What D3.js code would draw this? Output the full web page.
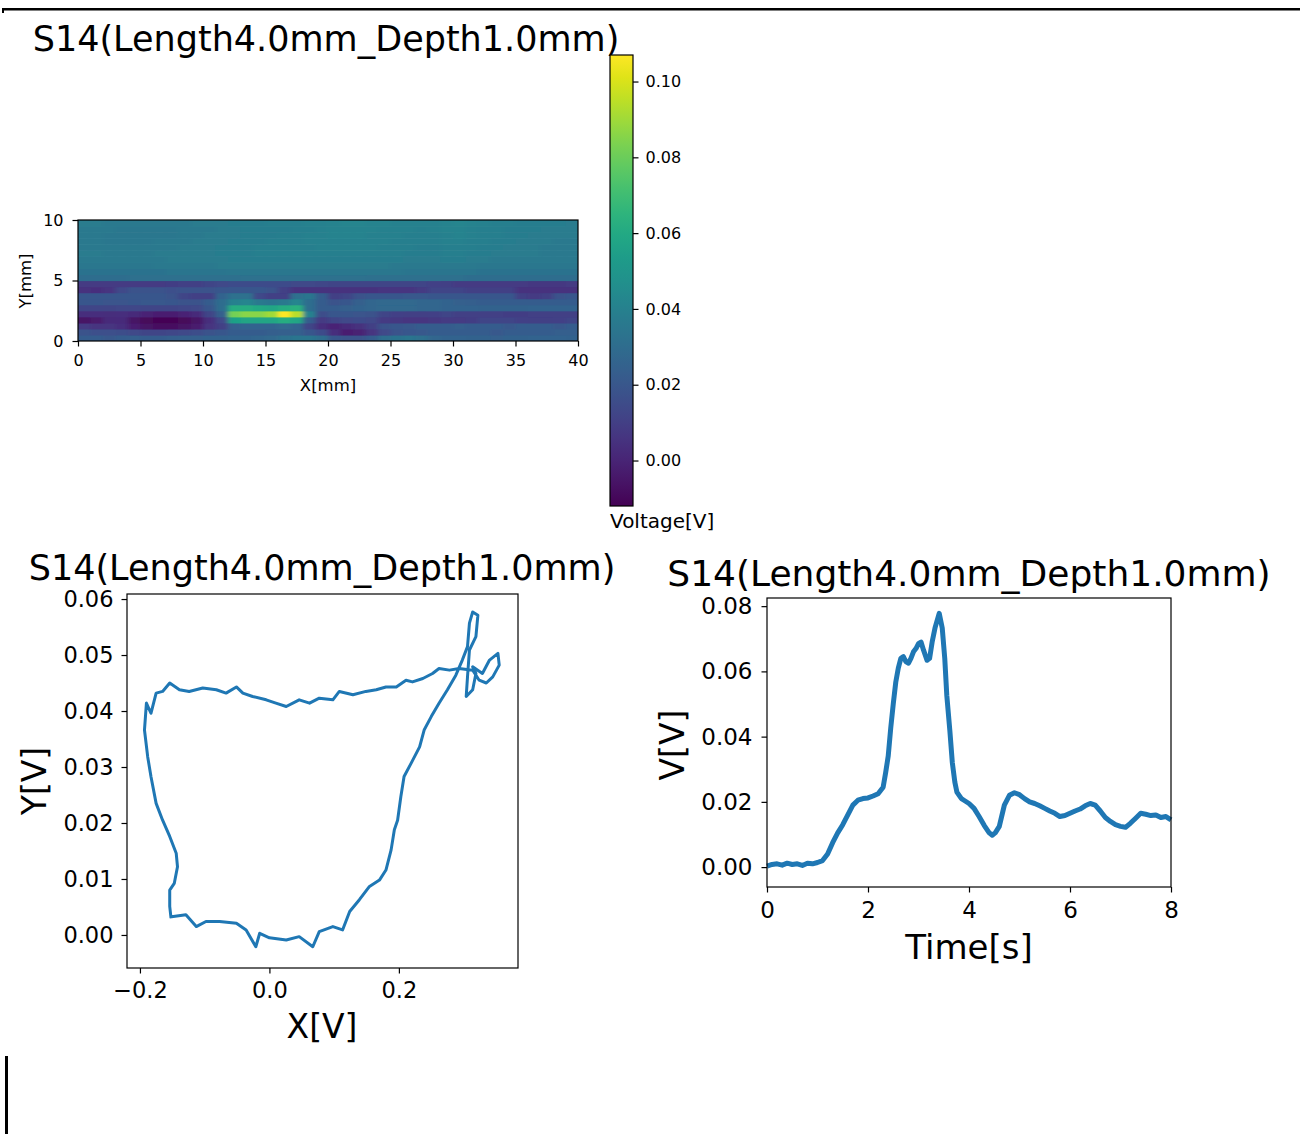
<!DOCTYPE html>
<html>
<head>
<meta charset="utf-8">
<script src="https://cdn.jsdelivr.net/npm/d3@7"></script>
<style>
  body { margin: 0; background: #fff; }
  svg { display: block; font-family: "DejaVu Sans", sans-serif; }
</style>
</head>
<body>
<svg id="chart" width="1300" height="1134"></svg>
<script>
// chart texts //
var titleText = "S14(Length4.0mm_Depth1.0mm)";

// heatmap values in mV, one row per 0.5 mm of Y (bottom row first), one column per 1 mm of X
var heatRows = [
  [22,22,21,22,23,22,22,23,24,24,25,25,26,26,27,28,32,34,34,30,20,18,18,22,30,33,34,31,27,26,26,25,25,24,25,25,26,26,26,25],
  [18,17,17,16,14,12,12,13,14,16,18,20,22,22,22,23,24,24,20,15,4,-2,-1,6,14,18,20,21,22,22,22,22,22,21,22,22,22,22,23,23],
  [8,6,6,4,-2,-6,-8,-8,-6,-3,6,10,24,26,26,26,28,26,12,4,0,2,5,10,18,20,21,22,22,22,23,22,22,22,21,22,22,22,21,22],
  [-6,-4,2,2,-6,-10,-12,-12,-10,-6,4,14,56,58,58,58,62,58,22,8,12,14,15,14,8,7,6,6,7,8,8,9,12,12,12,11,10,10,11,12],
  [4,4,3,4,2,0,-2,-2,0,2,12,24,82,86,86,90,107,94,40,16,20,20,19,18,12,11,10,10,11,12,10,10,10,10,9,9,10,10,10,10],
  [12,12,12,13,13,12,12,12,13,14,20,30,62,62,60,58,62,64,30,22,22,24,26,27,28,28,28,27,27,26,26,26,25,25,25,25,26,26,26,26],
  [20,20,19,19,20,21,21,20,18,18,22,30,40,42,36,34,36,42,30,22,18,20,24,27,28,28,28,27,27,26,24,23,22,22,22,22,22,22,22,22],
  [20,20,20,20,20,20,20,18,12,10,10,26,32,32,14,10,10,32,34,22,10,12,18,20,20,20,21,21,20,20,20,20,20,20,20,10,8,10,18,20],
  [5,4,6,14,18,18,18,17,18,18,18,20,20,20,20,18,10,5,5,5,5,5,5,5,6,6,6,8,12,12,12,10,10,10,10,5,5,5,5,5],
  [8,8,8,8,8,8,8,9,10,10,12,14,15,15,15,15,15,14,14,13,12,12,12,12,12,12,12,12,11,10,8,8,8,8,8,8,7,7,7,8],
  [30,30,30,30,31,31,31,31,31,31,31,31,31,32,32,32,32,32,32,32,32,32,32,31,31,31,31,31,31,31,31,30,30,30,30,30,30,30,30,30],
  [33,33,33,33,33,33,33,34,34,34,34,34,35,35,35,35,35,35,35,35,35,35,35,35,35,35,34,34,34,34,34,34,33,33,33,33,33,33,33,33],
  [35,35,35,35,35,35,36,36,36,36,36,37,37,37,37,37,37,37,37,37,37,37,37,37,37,36,36,36,36,36,36,36,35,35,35,35,35,35,35,35],
  [36,36,36,36,36,36,36,37,37,37,37,37,38,38,38,38,38,38,38,38,38,38,38,38,38,38,37,37,37,38,38,37,37,36,36,36,36,36,36,36],
  [37,37,36,36,36,36,37,37,37,37,37,38,38,38,39,39,39,39,39,39,39,39,39,39,39,39,38,38,38,39,39,38,38,37,37,37,37,36,36,36],
  [36,36,36,36,36,36,36,36,37,37,37,38,38,38,39,39,39,39,39,40,40,40,40,40,39,39,39,38,38,39,39,39,38,38,37,37,37,36,36,36],
  [36,36,35,35,35,35,36,36,36,37,37,37,38,38,38,39,39,39,40,40,40,40,40,40,40,39,39,39,39,40,40,39,39,38,38,37,37,37,36,36],
  [36,36,35,35,35,35,35,35,36,36,37,37,37,38,38,38,39,39,40,40,41,41,41,40,40,40,39,39,39,40,41,40,39,39,38,38,37,37,37,37],
  [36,36,36,35,35,35,35,35,36,36,36,37,37,38,38,38,38,39,39,40,41,41,41,41,40,40,40,39,40,41,41,40,39,39,38,38,38,37,37,37],
  [37,37,36,36,36,36,36,36,36,37,37,37,38,38,38,39,39,39,40,40,41,42,42,41,41,40,40,40,40,41,42,41,40,39,39,38,38,38,38,37]
];
var heatXTicks = [0, 5, 10, 15, 20, 25, 30, 35, 40];
var heatYTicks = [0, 5, 10];
var cbarTicks = [0.00, 0.02, 0.04, 0.06, 0.08, 0.10];

// X/Y voltage trajectory [X, Y]
var loopPoints = [
  [-0.154,0.0032],[-0.129,0.0036],[-0.113,0.0015],[-0.098,0.0024],[-0.077,0.0024],[-0.051,0.0021],
  [-0.036,0.0009],[-0.021,-0.0021],[-0.015,0.0003],[0.000,-0.0005],[0.026,-0.0009],[0.046,-0.0003],
  [0.067,-0.0021],[0.077,0.0006],[0.098,0.0015],[0.113,0.0009],[0.124,0.0042],[0.139,0.0063],
  [0.154,0.0086],[0.170,0.0098],[0.180,0.0116],[0.188,0.0152],[0.193,0.0188],[0.198,0.0205],
  [0.203,0.0247],[0.208,0.0283],[0.219,0.0307],[0.232,0.0336],[0.239,0.0366],[0.250,0.0390],
  [0.262,0.0414],[0.275,0.0438],[0.288,0.0464],[0.298,0.0491],[0.306,0.0515],
  [0.309,0.0557],[0.314,0.0577],[0.322,0.0571],[0.319,0.0533],[0.309,0.0509],[0.306,0.0461],
  [0.304,0.0426],[0.314,0.0438],[0.319,0.0467],[0.314,0.0479],[0.329,0.0467],[0.340,0.0491],
  [0.353,0.0503],[0.355,0.0482],[0.345,0.0461],[0.335,0.0450],[0.324,0.0455],[0.314,0.0473],
  [0.293,0.0476],[0.278,0.0473],[0.262,0.0476],[0.252,0.0467],[0.237,0.0458],[0.221,0.0452],
  [0.211,0.0455],[0.196,0.0443],[0.180,0.0443],[0.165,0.0438],[0.149,0.0435],[0.129,0.0429],
  [0.108,0.0435],[0.098,0.0420],[0.077,0.0423],[0.062,0.0414],[0.046,0.0420],[0.026,0.0408],
  [0.010,0.0414],[-0.005,0.0420],[-0.026,0.0426],[-0.041,0.0432],[-0.051,0.0443],[-0.067,0.0432],
  [-0.082,0.0438],[-0.103,0.0441],[-0.124,0.0435],[-0.139,0.0438],[-0.154,0.0450],[-0.165,0.0435],
  [-0.175,0.0432],[-0.183,0.0396],[-0.190,0.0414],
  [-0.193,0.0366],[-0.188,0.0318],[-0.183,0.0283],[-0.175,0.0235],[-0.165,0.0205],[-0.154,0.0176],
  [-0.144,0.0146],[-0.142,0.0122],[-0.147,0.0092],[-0.154,0.0080],[-0.154,0.0051],[-0.152,0.0030]
];
var loopXTicks = [-0.2, 0.0, 0.2];
var loopYTicks = [0.00, 0.01, 0.02, 0.03, 0.04, 0.05, 0.06];

// voltage against time [t (s), V]
var timePoints = [
  [0.0,0.0003],[0.1,0.0008],[0.2,0.0010],[0.3,0.0006],[0.4,0.0012],[0.5,0.0008],[0.6,0.0010],
  [0.7,0.0005],[0.8,0.0012],[0.9,0.0010],[1.0,0.0014],[1.1,0.0020],[1.2,0.0040],[1.3,0.0075],
  [1.4,0.0105],[1.5,0.0130],[1.6,0.0160],[1.7,0.0190],[1.8,0.0205],[1.9,0.0210],[2.0,0.0212],
  [2.1,0.0218],[2.2,0.0225],[2.3,0.0245],[2.35,0.0290],[2.4,0.0340],[2.45,0.0426],[2.5,0.0500],
  [2.55,0.0567],[2.6,0.0610],[2.65,0.0640],[2.7,0.0645],[2.75,0.0630],[2.8,0.0625],[2.85,0.0640],
  [2.9,0.0660],[2.95,0.0670],[3.0,0.0685],[3.05,0.0690],[3.1,0.0665],[3.17,0.0634],[3.22,0.0640],
  [3.27,0.0690],[3.33,0.0735],[3.41,0.0778],[3.47,0.0733],[3.52,0.0640],[3.56,0.0527],[3.62,0.0420],
  [3.67,0.0320],[3.72,0.0260],[3.76,0.0230],[3.85,0.0210],[3.9,0.0205],[4.0,0.0195],[4.1,0.0180],
  [4.2,0.0155],[4.3,0.0128],[4.4,0.0105],[4.46,0.0098],[4.52,0.0105],[4.6,0.0125],[4.7,0.0190],
  [4.8,0.0220],[4.9,0.0228],[5.0,0.0222],[5.1,0.0210],[5.2,0.0200],[5.3,0.0195],[5.4,0.0188],
  [5.5,0.0180],[5.6,0.0172],[5.7,0.0165],[5.8,0.0155],[5.9,0.0158],[6.0,0.0165],[6.1,0.0172],
  [6.2,0.0178],[6.3,0.0188],[6.4,0.0195],[6.5,0.0190],[6.6,0.0172],[6.7,0.0152],[6.8,0.0140],
  [6.9,0.0130],[7.0,0.0125],[7.1,0.0122],[7.2,0.0135],[7.3,0.0150],[7.4,0.0165],[7.5,0.0162],
  [7.6,0.0158],[7.7,0.0160],[7.8,0.0152],[7.9,0.0155],[8.0,0.0145]
];
var timeXTicks = [0, 2, 4, 6, 8];
var timeYTicks = [0.00, 0.02, 0.04, 0.06, 0.08];

var svg = d3.select("#chart");
var lineBlue = "#1f77b4";
var font = "DejaVu Sans";

// common axis styling, matplotlib like
function styleAxis(g, fontSize){
    g.attr("font-family", font).attr("font-size", fontSize);
    g.select(".domain").remove();
    g.selectAll(".tick line").attr("stroke", "#000").attr("stroke-width", 1.2);
    g.selectAll(".tick text").attr("fill", "#000");
}

function drawFrame(x0, y0, x1, y1){
    svg.append("rect")
        .attr("x", x0).attr("y", y0)
        .attr("width", x1 - x0).attr("height", y1 - y0)
        .attr("fill", "none").attr("stroke", "#000").attr("stroke-width", 1.2);
}

function addText(x, y, txt, size, anchor, rotate){
    var t = svg.append("text")
        .attr("font-family", font)
        .attr("font-size", size)
        .attr("text-anchor", anchor || "start")
        .attr("fill", "#000")
        .text(txt);
    if (rotate) {
        t.attr("transform", "translate(" + x + "," + y + ") rotate(-90)");
    } else {
        t.attr("x", x).attr("y", y);
    }
    return t;
}

// notebook cell borders
    function makeBorders(){
        svg.append("rect").attr("x", 2).attr("y", 8).attr("width", 1298).attr("height", 2.5).attr("fill", "#000");
        svg.append("rect").attr("x", 2).attr("y", 8).attr("width", 2).attr("height", 5).attr("fill", "#000");
        svg.append("rect").attr("x", 5).attr("y", 1056).attr("width", 3).attr("height", 78).attr("fill", "#000");
    }

// heatmap with colorbar
    function makeHeatmap(){
        var x = d3.scaleLinear().domain([0, 40]).range([78, 578]);
        var y = d3.scaleLinear().domain([0, 10]).range([341, 220]);
        var nCols = heatRows[0].length, nRows = heatRows.length;

        var cells = [];
        heatRows.forEach(function(row, k){
            row.forEach(function(v, c){
                cells.push({c: c, k: k, v: v / 1000});
            });
        });
        var extent = d3.extent(cells, function(d){ return d.v; });
        var color = d3.scaleSequential(d3.interpolateViridis).domain(extent);

        var defs = svg.append("defs");
        defs.append("clipPath").attr("id", "heatClip")
            .append("rect").attr("x", 78).attr("y", 220).attr("width", 500).attr("height", 121);
        defs.append("filter").attr("id", "soft")
            .attr("x", "-5%").attr("y", "-10%").attr("width", "110%").attr("height", "120%")
            .append("feGaussianBlur").attr("stdDeviation", "2.6 0.7");

        // edge cells are stretched past the frame so the blur does not fade at the borders
        var pad = 10;
        svg.append("g")
            .attr("clip-path", "url(#heatClip)")
            .append("g")
            .attr("filter", "url(#soft)")
            .selectAll("rect")
            .data(cells)
            .enter()
            .append("rect")
            .attr("x", function(d){ return x(d.c) - (d.c === 0 ? pad : 0); })
            .attr("y", function(d){ return y((d.k + 1) * 0.5) - (d.k === nRows - 1 ? pad : 0); })
            .attr("width", function(d){ return x(1) - x(0) + 0.6 + (d.c === 0 || d.c === nCols - 1 ? pad : 0); })
            .attr("height", function(d){ return y(0) - y(0.5) + 0.6 + (d.k === 0 || d.k === nRows - 1 ? pad : 0); })
            .attr("fill", function(d){ return color(d.v); });

        drawFrame(78, 220, 578, 341);

        var gx = svg.append("g").attr("transform", "translate(0,341)")
            .call(d3.axisBottom(x).tickValues(heatXTicks).tickFormat(d3.format("d")).tickSize(5.5).tickPadding(8));
        styleAxis(gx, 16);
        var gy = svg.append("g").attr("transform", "translate(78,0)")
            .call(d3.axisLeft(y).tickValues(heatYTicks).tickFormat(d3.format("d")).tickSize(5.5).tickPadding(9));
        styleAxis(gy, 16);

        addText(328, 391, "X[mm]", 16.5, "middle");
        addText(31, 281, "Y[mm]", 16.5, "middle", true);
        addText(326, 51, titleText, 35, "middle");

        // colorbar
        var cb = d3.scaleLinear().domain(extent).range([506, 55]);
        var grad = defs.append("linearGradient")
            .attr("id", "viridisGrad")
            .attr("x1", 0).attr("y1", 1).attr("x2", 0).attr("y2", 0);
        d3.range(0, 1.0001, 0.05).forEach(function(p){
            grad.append("stop").attr("offset", p).attr("stop-color", d3.interpolateViridis(p));
        });
        svg.append("rect").attr("x", 610).attr("y", 55).attr("width", 23).attr("height", 451)
            .attr("fill", "url(#viridisGrad)");
        drawFrame(610, 55, 633, 506);
        var gc = svg.append("g").attr("transform", "translate(633,0)")
            .call(d3.axisRight(cb).tickValues(cbarTicks).tickFormat(d3.format(".2f")).tickSize(5.5).tickPadding(7));
        styleAxis(gc, 16);
        addText(610, 528, "Voltage[V]", 20, "start");
    }

// X/Y trajectory plot
    function makeLoopPlot(){
        var x = d3.scaleLinear().domain([-0.220, 0.384]).range([127, 518]);
        var y = d3.scaleLinear().domain([-0.0059, 0.0609]).range([968, 594]);

        svg.append("path")
            .datum(loopPoints)
            .attr("d", d3.line().x(function(d){ return x(d[0]); }).y(function(d){ return y(d[1]); }))
            .attr("fill", "none")
            .attr("stroke", lineBlue)
            .attr("stroke-width", 3)
            .attr("stroke-linejoin", "round");

        drawFrame(127, 594, 518, 968);

        var gx = svg.append("g").attr("transform", "translate(0,968)")
            .call(d3.axisBottom(x).tickValues(loopXTicks).tickFormat(d3.format(".1f")).tickSize(5.5).tickPadding(9));
        styleAxis(gx, 22.5);
        var gy = svg.append("g").attr("transform", "translate(127,0)")
            .call(d3.axisLeft(y).tickValues(loopYTicks).tickFormat(d3.format(".2f")).tickSize(5.5).tickPadding(8));
        styleAxis(gy, 22.5);

        addText(322, 1038, "X[V]", 33, "middle");
        addText(46, 781, "Y[V]", 33, "middle", true);
        addText(322, 580, titleText, 35, "middle");
    }

// time signal plot
    function makeTimePlot(){
        var x = d3.scaleLinear().domain([0, 8]).range([767, 1171]);
        var y = d3.scaleLinear().domain([-0.0061, 0.0825]).range([887, 598]);

        svg.append("path")
            .datum(timePoints)
            .attr("d", d3.line().x(function(d){ return x(d[0]); }).y(function(d){ return y(d[1]); }))
            .attr("fill", "none")
            .attr("stroke", lineBlue)
            .attr("stroke-width", 5)
            .attr("stroke-linejoin", "round");

        drawFrame(767, 598, 1171, 887);

        var gx = svg.append("g").attr("transform", "translate(0,887)")
            .call(d3.axisBottom(x).tickValues(timeXTicks).tickFormat(d3.format("d")).tickSize(5.5).tickPadding(9));
        styleAxis(gx, 23);
        var gy = svg.append("g").attr("transform", "translate(767,0)")
            .call(d3.axisLeft(y).tickValues(timeYTicks).tickFormat(d3.format(".2f")).tickSize(5.5).tickPadding(9));
        styleAxis(gy, 23);

        addText(969, 959, "Time[s]", 34, "middle");
        addText(684, 745, "V[V]", 33, "middle", true);
        addText(969, 586, titleText, 36, "middle");
    }

    makeBorders();
    makeHeatmap();
    makeLoopPlot();
    makeTimePlot();
</script>
</body>
</html>
